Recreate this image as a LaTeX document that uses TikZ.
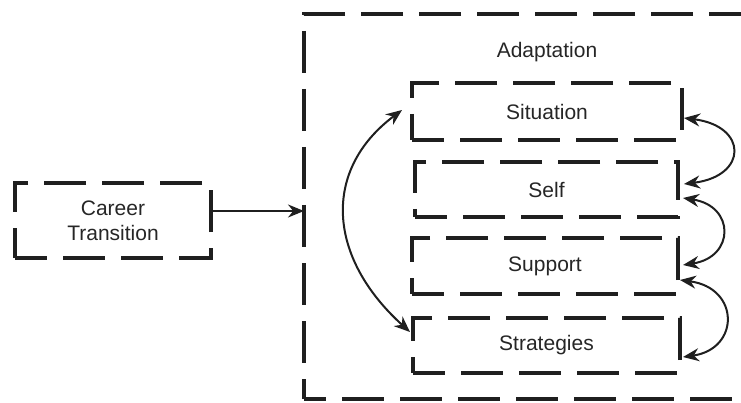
\documentclass[tikz,border=0pt]{standalone}
\usepackage{fontspec}
\setmainfont{Liberation Sans}
\usetikzlibrary{arrows.meta}
\begin{document}
\begin{tikzpicture}[x=1pt,y=1pt,
  dbox/.style={draw=black!88,line width=4.5pt,dash pattern=on 42pt off 16pt,rectangle,outer sep=0pt,inner sep=0pt,
    font=\fontsize{21}{25}\selectfont,text=black!85,align=center},
  tip/.style={Stealth[length=16pt,width=13pt]},
  conn/.style={line width=2pt,draw=black!88,{Stealth[length=16pt,width=13pt]}-{Stealth[length=16pt,width=13pt]}},
  single/.style={line width=2pt,draw=black!88,-{Stealth[length=16pt,width=13pt]}},
  lbl/.style={font=\fontsize{21}{25}\selectfont,text=black!85}]
\useasboundingbox (0,0) rectangle (741,402);
\clip (0,0) rectangle (741,402);
\node[dbox,minimum width=456pt,minimum height=385pt,dash phase=20pt] (adapt) at (532,195.5) {};
\node[lbl] (adaptlbl) at (547,350) {Adaptation};
\node[dbox,minimum width=196pt,minimum height=75pt,dash phase=10pt] (career) at (113,181.5) {Career\\Transition};
\node[dbox,minimum width=270pt,minimum height=57pt,dash phase=10pt] (sit) at (547,290.5) {\raisebox{-2pt}{Situation}};
\node[dbox,minimum width=263pt,minimum height=55pt,dash phase=10pt] (self) at (546.5,212.5) {\raisebox{-2pt}{Self}};
\node[dbox,minimum width=266pt,minimum height=56pt,dash phase=10pt] (sup) at (545,136) {\raisebox{-2pt}{Support}};
\node[dbox,minimum width=267pt,minimum height=55pt,dash phase=10pt] (strat) at (546.5,56.5) {\raisebox{-2pt}{Strategies}};
\draw[single] ([yshift=9.5pt]career.east) -- ([yshift=9.5pt]career.east -| adapt.west);
\draw[conn] ([shift={(-10pt,-27pt)}]sit.north west) .. controls +(-80,-60) and +(-83,75) .. ([shift={(-3pt,-14pt)}]strat.north west);
\draw[conn] ([shift={(2pt,-35pt)}]sit.north east) .. controls +(64,-8) and +(64,8) .. ([shift={(6pt,-22pt)}]self.north east);
\draw[conn] ([shift={(5pt,19pt)}]self.south east) .. controls +(52,-8) and +(52,8) .. ([shift={(5pt,-27pt)}]sup.north east);
\draw[conn] ([shift={(2pt,14pt)}]sup.south east) .. controls +(60,-8) and +(57,8) .. ([shift={(3pt,16pt)}]strat.south east);
\end{tikzpicture}
\end{document}
